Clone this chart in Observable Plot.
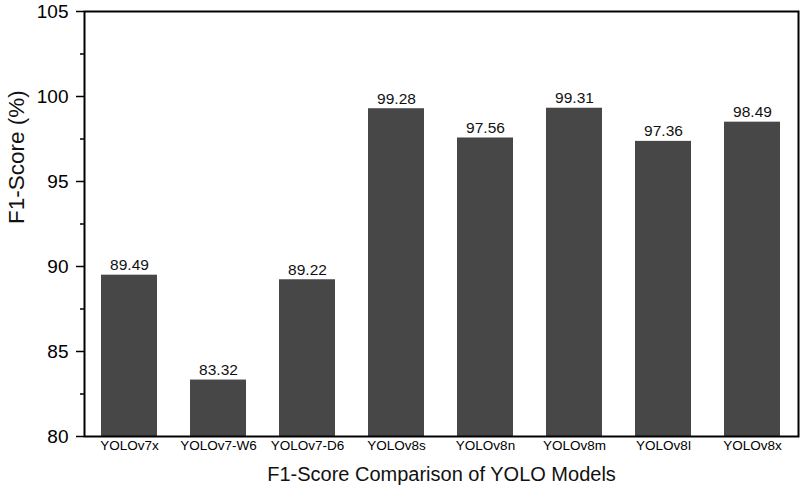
<!DOCTYPE html>
<html>
<head>
<meta charset="utf-8">
<script src="https://cdn.jsdelivr.net/npm/d3@7"></script>
<script src="https://cdn.jsdelivr.net/npm/@observablehq/plot@0.6"></script>
<style>
  html, body { margin: 0; padding: 0; background: #fff; }
  svg { font-family: "Liberation Sans", Arial, sans-serif; }
</style>
</head>
<body>
<div id="chart"></div>
<script>
const models = ["YOLOv7x", "YOLOv7-W6", "YOLOv7-D6", "YOLOv8s", "YOLOv8n", "YOLOv8m", "YOLOv8l", "YOLOv8x"];
const f1 = [89.49, 83.32, 89.22, 99.28, 97.56, 99.31, 97.36, 98.49];
const majorTicks = [80, 85, 90, 95, 100, 105];
const minorTicks = [82.5, 87.5, 92.5, 97.5, 102.5];
const xTitle = "F1-Score Comparison of YOLO Models";
const yTitle = "F1-Score (%)";

const data = models.map((m, i) => ({model: m, value: f1[i]}));

const chart = Plot.plot({
  width: 800,
  height: 494,
  marginLeft: 84,
  marginRight: 2,
  marginTop: 11,
  marginBottom: 58,
  style: {fontFamily: "'Liberation Sans', Arial, sans-serif", color: "#000", background: "#fff"},
  x: {domain: models, paddingInner: 0.37, paddingOuter: 0.185, label: null},
  y: {domain: [80, 105], label: null},
  marks: [
    Plot.barY(data, {x: "model", y1: 80, y2: "value", fill: "#474747"}),
    Plot.text(data, {x: "model", y: "value", text: d => d.value.toFixed(2), lineAnchor: "bottom", dy: -5, fontSize: 15.5, fill: "#111"}),
    Plot.axisY(minorTicks, {tickSize: 4, text: null, strokeWidth: 1.5, label: null}),
    Plot.axisY(majorTicks, {tickSize: 8, tickPadding: 8, fontSize: 19, strokeWidth: 1.5, label: null}),
    Plot.axisX({tickSize: 0, tickPadding: 4, fontSize: 13.5, label: null}),
    Plot.frame({stroke: "#000", strokeWidth: 2}),
    Plot.text([xTitle], {frameAnchor: "bottom", dy: 44, fontSize: 20, fill: "#111"}),
    Plot.text([yTitle], {frameAnchor: "left", dx: -68, rotate: -90, fontSize: 22.5, fill: "#111"})
  ]
});
document.getElementById("chart").appendChild(chart);
</script>
</body>
</html>
